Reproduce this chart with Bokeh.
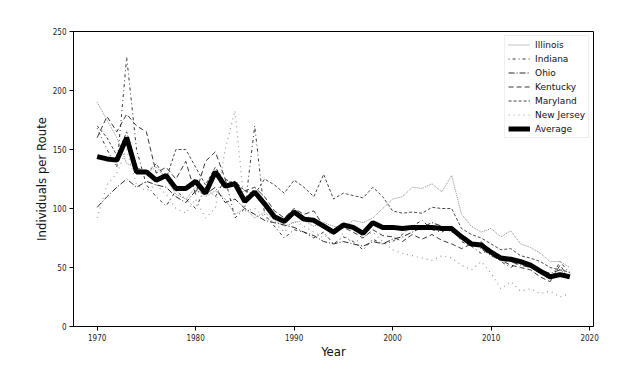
from bokeh.plotting import figure
from bokeh.models import Range1d, FixedTicker, Legend, LegendItem
from bokeh.embed import file_html
from bokeh.resources import INLINE

years = list(range(1970, 2019))

illinois = [190, 175, 160, 138, 135, 130, 135, 125, 112, 108, 118, 110, 115, 108, 95, 100, 92, 97, 90, 85,
            88, 90, 85, 88, 85, 83, 90, 88, 92, 100, 108, 110, 118, 117, 121, 114, 128, 95, 85, 80,
            83, 76, 81, 70, 67, 62, 55, 55, 50]
indiana = [168, 150, 135, 228, 150, 120, 110, 102, 115, 108, 100, 118, 110, 125, 92, 100, 170, 95, 85, 75,
           82, 80, 75, 80, 70, 76, 72, 65, 74, 70, 72, 78, 85, 90, 82, 80, 85, 72, 68, 62,
           65, 55, 50, 55, 50, 45, 40, 55, 45]
ohio = [101, 110, 118, 125, 118, 123, 120, 118, 110, 105, 115, 112, 118, 105, 108, 100, 95, 90, 88, 86,
        84, 80, 77, 72, 70, 72, 70, 68, 72, 70, 74, 76, 80, 84, 88, 85, 80, 78, 72, 66,
        60, 56, 55, 52, 50, 48, 45, 48, 42]
kentucky = [160, 178, 165, 180, 170, 165, 130, 135, 125, 140, 112, 140, 148, 125, 120, 115, 118, 110, 98, 92,
            100, 95, 98, 85, 78, 84, 80, 75, 82, 77, 76, 72, 78, 74, 78, 73, 70, 66, 70, 72,
            62, 56, 52, 50, 48, 42, 38, 52, 40]
maryland = [170, 160, 145, 165, 135, 130, 138, 125, 150, 150, 135, 120, 135, 122, 123, 115, 112, 125, 120, 113,
            124, 118, 110, 129, 108, 113, 111, 109, 118, 110, 98, 96, 97, 96, 101, 100, 100, 83, 78, 75,
            70, 65, 66, 60, 58, 55, 50, 48, 46]
new_jersey = [92, 120, 130, 150, 120, 115, 120, 112, 100, 96, 108, 92, 100, 150, 183, 98, 100, 93, 88, 80,
              90, 85, 80, 75, 82, 78, 70, 76, 80, 72, 65, 62, 60, 58, 56, 60, 58, 52, 48, 55,
              45, 32, 38, 30, 32, 28, 30, 25, 28]
average = [144, 142, 141, 160, 131, 131, 124, 128, 117, 117, 123, 113, 131, 119, 121, 106, 114, 104, 93, 89,
           97, 91, 90, 85, 80, 86, 84, 79, 88, 84, 84, 83, 84, 84, 84, 83, 83, 76, 70, 69,
           63, 58, 57, 55, 52, 47, 42, 44, 42]

x_ticks = [1970, 1980, 1990, 2000, 2010, 2020]
y_ticks = [0, 50, 100, 150, 200, 250]

p = figure(frame_width=520, frame_height=295, output_backend="svg", toolbar_location=None,
           x_range=Range1d(1967.6, 2020.4), y_range=Range1d(0, 250),
           min_border_left=73, min_border_right=23, min_border_top=31, min_border_bottom=48)
p.background_fill_color = "white"
p.border_fill_color = "white"
p.outline_line_color = "black"
p.outline_line_width = 1
p.xgrid.visible = False
p.ygrid.visible = False

for ax in (p.xaxis[0], p.yaxis[0]):
    ax.axis_line_color = "black"
    ax.major_tick_line_color = "black"
    ax.major_tick_out = 4
    ax.major_tick_in = 0
    ax.minor_tick_line_color = None
    ax.major_label_text_font = "DejaVu Sans Condensed"
    ax.major_label_text_font_size = "8px"
    ax.major_label_text_color = "#222222"
    ax.major_label_standoff = 3
    ax.axis_label_text_font = "DejaVu Sans Condensed"
    ax.axis_label_text_font_size = "13px"
    ax.axis_label_text_font_style = "normal"
    ax.axis_label_text_color = "#111111"

p.xaxis.ticker = FixedTicker(ticks=x_ticks)
p.yaxis.ticker = FixedTicker(ticks=y_ticks)
p.xaxis.axis_label = "Year"
p.yaxis.axis_label = "Individuals per Route"
p.xaxis.axis_label_standoff = 0
p.yaxis.axis_label_standoff = 1

series = [
    ("Illinois", illinois, "#8a8a8a", "1 1", 1.0),
    ("Indiana", indiana, "#3a3a3a", "1 3 3 3", 1.0),
    ("Ohio", ohio, "#2a2a2a", "6 2 1 2", 1.0),
    ("Kentucky", kentucky, "#3a3a3a", "5 3", 1.0),
    ("Maryland", maryland, "#4a4a4a", "3 2", 1.0),
    ("New Jersey", new_jersey, "#9a9a9a", "1 4", 1.2),
    ("Average", average, "black", "solid", 5.0),
]

items = []
for name, vals, col, dash, w in series:
    r = p.line(years, vals, line_color=col, line_dash=dash, line_width=w)
    items.append(LegendItem(label=name, renderers=[r]))

legend = Legend(items=items, location="top_right")
legend.label_text_font = "DejaVu Sans"
legend.label_text_font_size = "9px"
legend.label_text_color = "#111111"
legend.glyph_width = 22
legend.glyph_height = 11
legend.label_height = 11
legend.label_standoff = 5
legend.spacing = 3
legend.padding = 3
legend.margin = 4
legend.border_line_color = "#dddddd"
legend.border_line_width = 1
legend.background_fill_alpha = 1.0
p.add_layout(legend)

open("out.html", "w").write(file_html(p, INLINE))
